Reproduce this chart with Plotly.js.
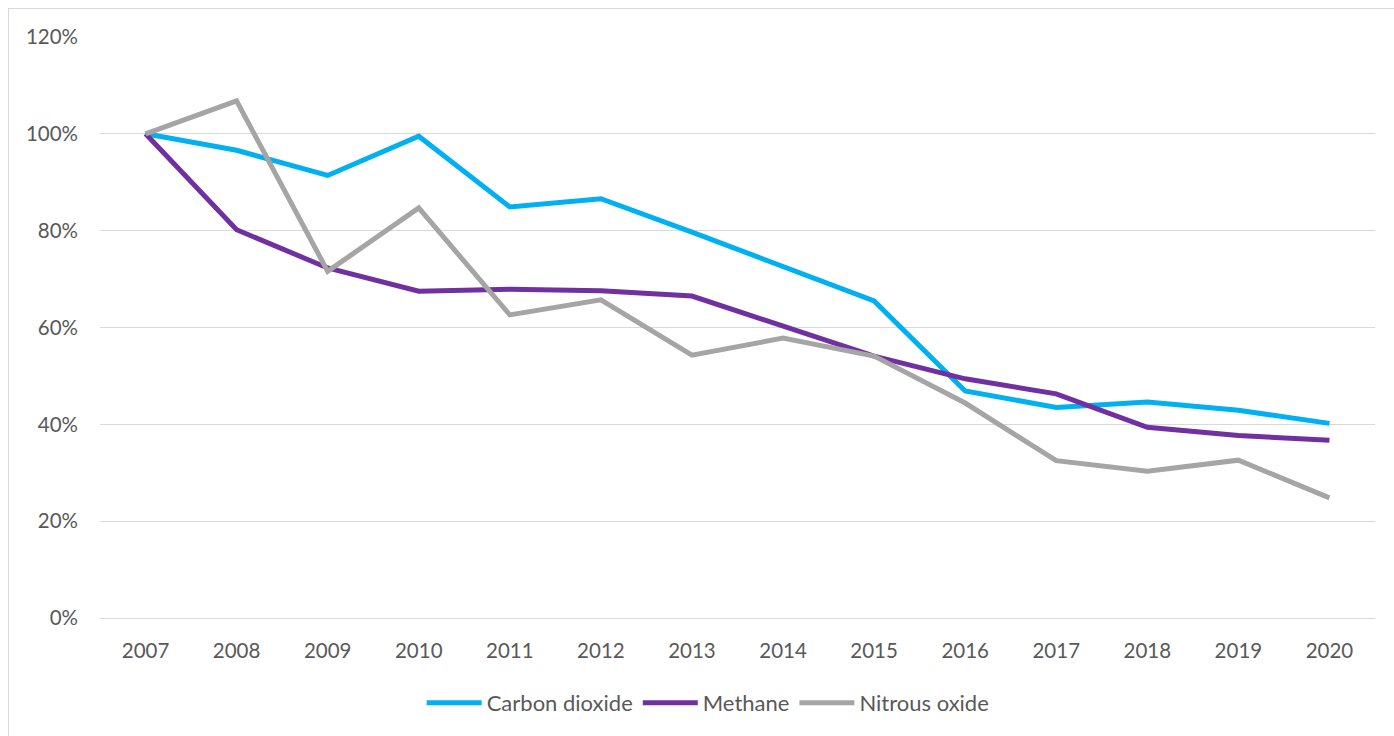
<!DOCTYPE html>
<html>
<head>
<meta charset="utf-8">
<script src="https://cdn.plot.ly/plotly-3.0.1.min.js"></script>
<style>
html,body{margin:0;padding:0;background:#fff;overflow:hidden;}
#frame{position:absolute;left:8px;top:8px;width:1400px;height:740px;border:1px solid #D9D9D9;box-sizing:border-box;pointer-events:none;z-index:5;}
#chart{position:absolute;left:0;top:0;width:1394px;height:736px;}
</style>
</head>
<body>
<div id="chart"></div>
<div id="frame"></div>
<script>
const years = ['2007','2008','2009','2010','2011','2012','2013','2014','2015','2016','2017','2018','2019','2020'];
const carbonDioxide = [1.000,0.966,0.914,0.995,0.849,0.866,0.797,0.725,0.655,0.469,0.435,0.446,0.429,0.402];
const methane = [1.000,0.802,0.723,0.675,0.679,0.676,0.665,0.603,0.541,0.494,0.463,0.394,0.377,0.367];
const nitrousOxide = [1.000,1.068,0.716,0.847,0.626,0.657,0.543,0.578,0.541,0.444,0.325,0.303,0.326,0.248];
const yTicks = [0,0.2,0.4,0.6,0.8,1.0,1.2];
const yTickLabels = ['0%','20%','40%','60%','80%','100%','120%'];

const font = {family:'Lato, "Open Sans", sans-serif', size:20.5, color:'#595959'};
function tr(name, y, color){
  return {x:years, y:y, name:name, type:'scatter', mode:'lines',
    line:{color:color, width:5, shape:'linear'}, hoverinfo:'x+y+name'};
}
const data = [
  tr('Carbon dioxide', carbonDioxide, '#00B0F0'),
  tr('Methane', methane, '#7030A0'),
  tr('Nitrous oxide', nitrousOxide, '#A5A5A5')
];
const layout = {
  width:1394, height:736,
  margin:{l:100, r:19, t:37, b:118, pad:0},
  paper_bgcolor:'#fff', plot_bgcolor:'#fff',
  font:font,
  showlegend:true,
  legend:{orientation:'h', x:0.477, xanchor:'center', y:-0.146, yanchor:'middle',
    font:{family:font.family, size:22, color:'#595959'}, itemwidth:55, tracegroupgap:0},
  xaxis:{type:'category', range:[-0.5,13.5], showgrid:false, zeroline:false,
    showline:true, linecolor:'#D9D9D9', linewidth:1, ticks:'', ticklabelstandoff:14,
    tickfont:font, fixedrange:true},
  yaxis:{range:[0,1.2], tickvals:yTicks, ticktext:yTickLabels, showgrid:true,
    gridcolor:'#D9D9D9', gridwidth:1, zeroline:false, showline:false, ticks:'',
    ticklabelstandoff:21, tickfont:font, fixedrange:true}
};
Plotly.newPlot('chart', data, layout, {displayModeBar:false, staticPlot:true});
</script>
</body>
</html>
